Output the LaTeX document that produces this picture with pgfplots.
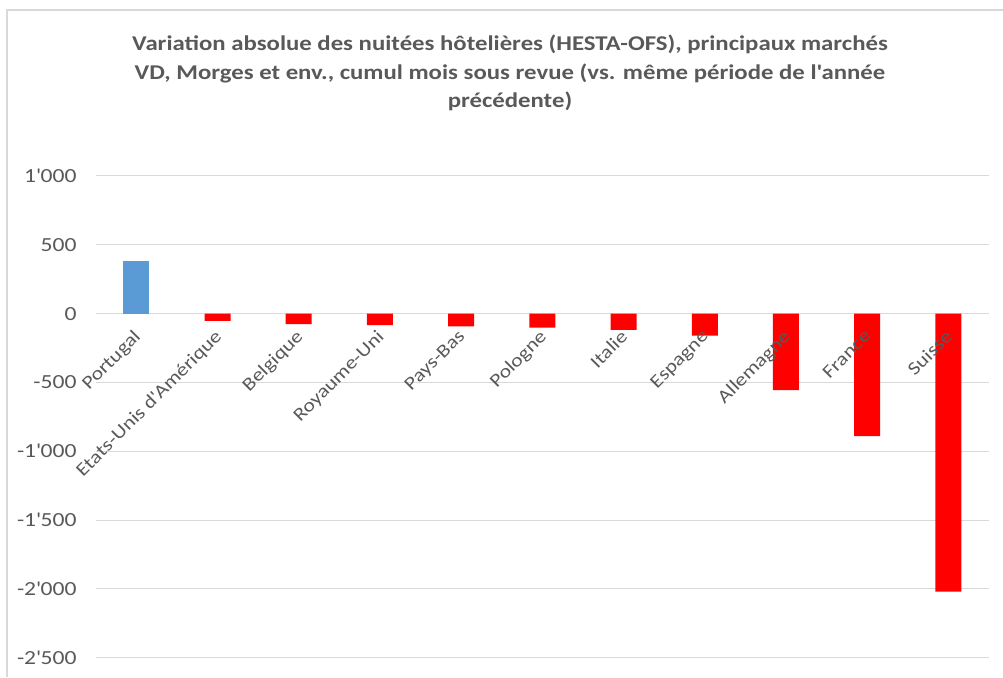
\documentclass[border=0pt]{standalone}
\usepackage{fontspec}
\setmainfont{Carlito}[FakeStretch=1.18]
\usepackage{pgfplots}
\pgfplotsset{compat=1.18}
\definecolor{txt}{HTML}{595959}
\definecolor{grd}{HTML}{D9D9D9}
\definecolor{bblue}{HTML}{5B9BD5}
\definecolor{bred}{HTML}{FF0000}
\begin{document}
\begin{tikzpicture}[x=1pt,y=1pt]
\draw[grd, line width=2pt] (7,0) -- (7,667) -- (1003,667);
\begin{scope}[every node/.style={text=txt, font=\fontsize{21}{28}\selectfont\bfseries, anchor=base, inner sep=0}]
\node at (510,626) {Variation absolue des nuitées hôtelières (HESTA-OFS), principaux marchés};
\node at (510,597.7) {VD, Morges et env., cumul mois sous revue (vs. même période de l\textquotesingle année};
\node at (510,569.4) {précédente)};
\end{scope}
\begin{axis}[
  set layers,
  at={(95.7pt,19.3pt)}, anchor=south west,
  scale only axis, width=893.3pt, height=481.7pt,
  xmin=-0.5, xmax=10.5, ymin=-2500, ymax=1000,
  axis x line=middle, axis y line=left,
  hide obscured x ticks=false, hide obscured y ticks=false,
  x axis line style={draw=none,-}, y axis line style={draw=none,-},
  major tick length=0pt,
  ytick={-2500,-2000,-1500,-1000,-500,0,500,1000},
  ymajorgrids, grid style={grd, line width=1pt},
  scaled y ticks=false,
  /pgf/number format/assume math mode=true,
  /pgf/number format/1000 sep={\textquotesingle},
  yticklabel style={font=\fontsize{20}{24}\selectfont, text=txt, anchor=east, inner sep=0pt, xshift=-19pt},
  xtick={0,1,2,3,4,5,6,7,8,9,10},
  xticklabels={Portugal, Etats-Unis d\textquotesingle Amérique, Belgique, Royaume-Uni, Pays-Bas, Pologne, Italie, Espagne, Allemagne, France, Suisse},
  xticklabel style={font=\fontsize{18.5}{22}\selectfont, text=txt, xshift=-4pt, yshift=-15pt, rotate=45, anchor=north east, inner sep=0pt},
  ybar, bar width=0.32,
  clip=false,
]
\addplot[ybar, bar shift=0pt, fill=bblue, draw=none, on layer=axis ticks] coordinates {(0,385)};
\addplot[ybar, bar shift=0pt, fill=bred, draw=none, on layer=axis ticks] coordinates {(1,-53) (2,-77) (3,-84) (4,-92) (5,-101) (6,-118) (7,-160) (8,-556) (9,-890) (10,-2020)};
\end{axis}
\pgfresetboundingbox
\path[use as bounding box] (0,0) rectangle (1003,677);
\end{tikzpicture}
\end{document}
